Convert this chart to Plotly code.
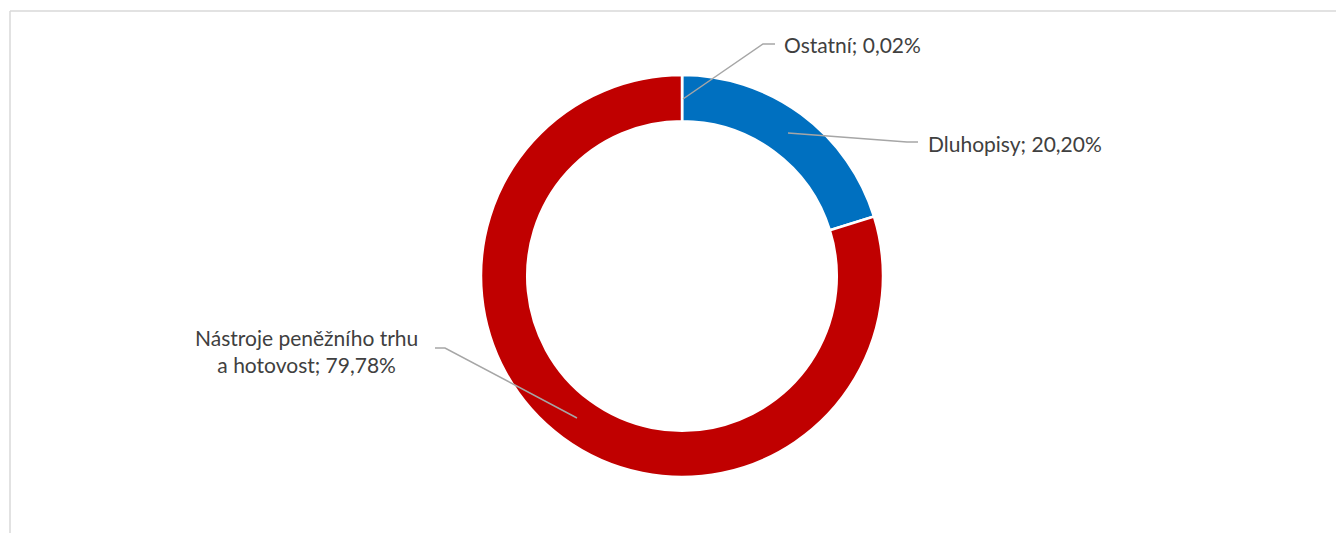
import plotly.graph_objects as go

labels = ["Ostatní", "Dluhopisy", "Nástroje peněžního trhu a hotovost"]
values = [0.02, 20.20, 79.78]
colors = ["#A5A5A5", "#0070C0", "#C00000"]
label_texts = ["Ostatní; 0,02%", "Dluhopisy; 20,20%", "Nástroje peněžního trhu<br>a hotovost; 79,78%"]

# page body adds an 8px offset; figure coordinates below are page pixels minus that
OFF = 8
W, H = 1344, 533
cx, cy, r = 682 - OFF, 276 - OFF, 201

def px(x):
    return (x - OFF) / W

def py(y):
    return 1 - (y - OFF) / H

fig = go.Figure(go.Pie(
    labels=labels, values=values, hole=0.77, sort=False, direction="clockwise",
    rotation=0, marker=dict(colors=colors, line=dict(color="white", width=2.5)),
    textinfo="none", hoverinfo="label+percent", showlegend=False,
    domain=dict(x=[(cx - r) / W, (cx + r) / W], y=[1 - (cy + r) / H, 1 - (cy - r) / H]),
))

font = dict(family="Lato, Open Sans, sans-serif", size=21, color="#404040")
annos = [
    dict(x=px(782), y=py(44), text=label_texts[0], xanchor="left"),
    dict(x=px(926), y=py(143), text=label_texts[1], xanchor="left"),
    dict(x=px(306), y=py(351), text=label_texts[2], xanchor="center", align="center"),
]
fig.update_layout(annotations=[dict(a, xref="paper", yref="paper", yanchor="middle",
                                     showarrow=False, font=font) for a in annos])

line = dict(color="#A6A6A6", width=1.5)
paths = [
    [(683, 99), (763, 44), (775, 44)],
    [(788, 133), (907, 142), (918, 142)],
    [(435, 348), (445, 348), (577, 418)],
]
shapes = []
for p in paths:
    d = "M " + " L ".join(f"{px(x)},{py(y)}" for x, y in p)
    shapes.append(dict(type="path", path=d, xref="paper", yref="paper", line=line))
# chart area border (top and left visible)
border = dict(color="#D9D9D9", width=1.5)
shapes.append(dict(type="line", xref="paper", yref="paper", x0=px(10), x1=1, y0=py(11), y1=py(11), line=border))
shapes.append(dict(type="line", xref="paper", yref="paper", x0=px(10), x1=px(10), y0=py(11), y1=0, line=border))
fig.update_layout(shapes=shapes, width=W, height=H, margin=dict(l=0, r=0, t=0, b=0),
                  paper_bgcolor="white", plot_bgcolor="white")

fig.write_html("out.html")
